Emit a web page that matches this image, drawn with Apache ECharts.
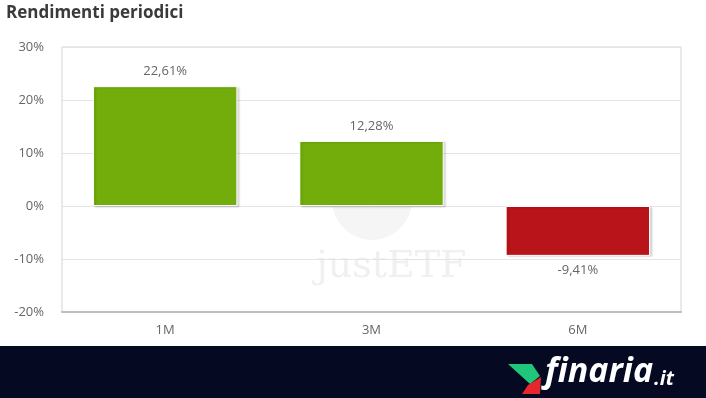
<!DOCTYPE html>
<html>
<head>
<meta charset="utf-8">
<script src="https://cdn.jsdelivr.net/npm/echarts@6/dist/echarts.min.js"></script>
<style>
  html, body { margin: 0; padding: 0; background: #fff; }
  #chart { width: 706px; height: 398px; }
</style>
</head>
<body>
<div id="chart"></div>
<script>
// periods and returns (%)
const categories = ['1M', '3M', '6M']
const returns = [22.61, 12.28, -9.41]
const yTicks = [-20, -10, 0, 10, 20, 30]

const fmt = v => String(v.toFixed(2)).replace('.', ',') + '%'

const myChart = echarts.init(document.getElementById('chart'))
myChart.setOption({
  animation: false,
  textStyle: { fontFamily: 'Open Sans' },
  title: {
    text: 'Rendimenti periodici',
    left: 1, top: 0,
    textStyle: { fontSize: 17, fontWeight: 'bold', color: '#3a3a3a', fontFamily: 'Open Sans' }
  },
  grid: {
    left: 62, right: 25, top: 47, bottom: 86,
    show: true, borderColor: '#d4d4d4', borderWidth: 1
  },
  xAxis: {
    type: 'category',
    data: categories,
    axisTick: { show: false },
    axisLine: { show: true, onZero: false, lineStyle: { color: '#bdbdbd', width: 2 } },
    axisLabel: { color: '#666', fontSize: 13, margin: 12 }
  },
  yAxis: {
    type: 'value',
    min: yTicks[0], max: yTicks[yTicks.length - 1], interval: 10,
    axisLine: { show: false },
    axisTick: { show: false },
    splitLine: { lineStyle: { color: '#e4e4e4' } },
    axisLabel: { color: '#666', fontSize: 13, margin: 18, formatter: '{value}%' }
  },
  graphic: [
    { type: 'circle', z: 0, shape: { cx: 372, cy: 200, r: 40 }, style: { fill: '#f5f5f5' } },
    { type: 'text', left: 316, top: 248, z: 0,
      style: { text: 'justETF', fill: '#f0f0f0', font: '38px "DejaVu Serif"' } },
    { type: 'rect', left: 0, top: 346, z: 10,
      shape: { width: 706, height: 52 }, style: { fill: '#050a22' } },
    { type: 'polygon', z: 11,
      shape: { points: [[508, 364], [532, 364], [540, 376], [530, 384]] },
      style: { fill: '#1ec77a' } },
    { type: 'polygon', z: 11,
      shape: { points: [[528, 385], [541, 377], [540, 394], [522, 394]] },
      style: { fill: '#e8262e' } },
    { type: 'text', left: 545, top: 355, z: 11,
      style: { text: 'finaria', fill: '#fff', font: 'italic bold 34px "Open Sans"' } },
    { type: 'text', left: 654, top: 369, z: 11,
      style: { text: '.it', fill: '#fff', font: 'italic bold 20px "Open Sans"' } }
  ],
  series: [{
    type: 'bar',
    data: returns.map(v => ({
      value: v,
      itemStyle: { color: v >= 0 ? '#73ad0c' : '#b8141a' },
      label: { position: v >= 0 ? 'top' : 'bottom' }
    })),
    barWidth: '70%',
    itemStyle: {
      borderColor: '#fff', borderWidth: 1,
      shadowColor: 'rgba(0,0,0,0.15)', shadowOffsetX: 2, shadowOffsetY: 1, shadowBlur: 2
    },
    label: {
      show: true, color: '#666', fontSize: 13, distance: 8,
      formatter: p => fmt(p.value)
    }
  }]
})
</script>
</body>
</html>
